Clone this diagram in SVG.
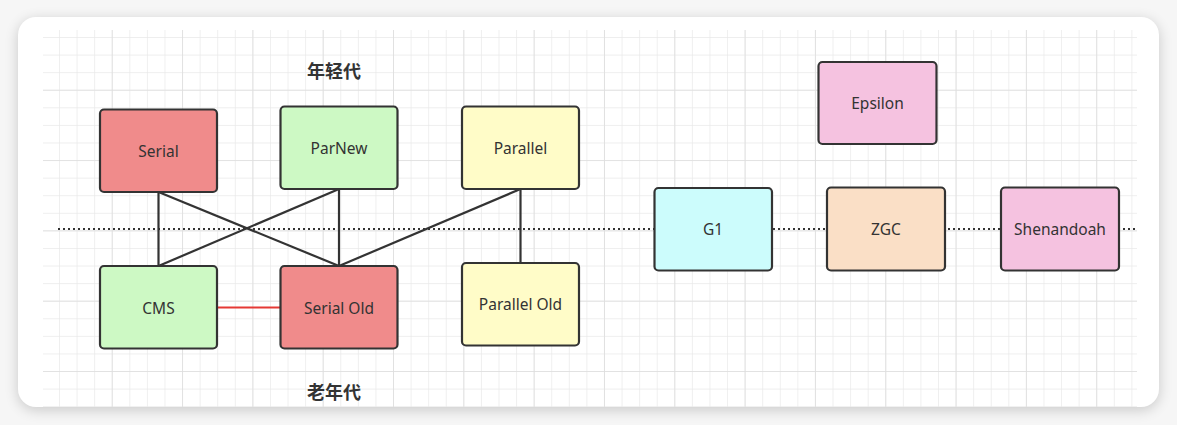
<svg xmlns="http://www.w3.org/2000/svg" width="1177" height="425" viewBox="0 0 1177 425">
<defs>
<filter id="shadow" x="-5%" y="-10%" width="110%" height="125%">
<feGaussianBlur stdDeviation="7"/>
</filter>
<pattern id="minor" x="42.4" y="20.4" width="17.58" height="17.58" patternUnits="userSpaceOnUse">
<path d="M17.58 0V17.58M0 17.58H17.58" fill="none" stroke="#e9e9e9" stroke-width="1.4"/>
</pattern>
<pattern id="major" x="42.4" y="20.4" width="70.32" height="70.32" patternUnits="userSpaceOnUse">
<path d="M70.32 0V70.32M0 70.32H70.32" fill="none" stroke="#dedede" stroke-width="1.6"/>
</pattern>
<clipPath id="cardclip"><rect x="18" y="17" width="1141" height="390" rx="18"/></clipPath>
</defs>
<style>
.node rect{stroke:#333;stroke-width:2.2}
.node text{font-family:"Noto Sans","Liberation Sans",sans-serif;font-size:15.5px;fill:#333;text-anchor:middle;dominant-baseline:central}
.lbl{font-family:"Noto Sans CJK SC",sans-serif;font-size:18px;font-weight:bold;fill:#333;text-anchor:middle;dominant-baseline:central}
.conn line{stroke:#333;stroke-width:2.2}
</style>
<rect width="1177" height="425" fill="#f6f6f6"/>
<rect x="18" y="20" width="1141" height="390" rx="18" fill="#000" opacity="0.18" filter="url(#shadow)"/>
<rect x="18" y="17" width="1141" height="390" rx="18" fill="#fff"/>
<g clip-path="url(#cardclip)">
<rect x="43" y="30" width="1094" height="380" fill="url(#minor)"/>
<rect x="43" y="30" width="1094" height="380" fill="url(#major)"/>
</g>
<line x1="58" y1="229" x2="1137" y2="229" stroke="#333" stroke-width="2.2" stroke-dasharray="2 3"/>
<text class="lbl" x="334" y="70">年轻代</text>
<text class="lbl" x="334" y="391">老年代</text>
<g id="connectors" class="conn">
<line x1="158.5" y1="192" x2="158.5" y2="266"/>
<line x1="158.5" y1="192" x2="339" y2="266"/>
<line x1="339" y1="189" x2="158.5" y2="266"/>
<line x1="339" y1="189" x2="339" y2="266"/>
<line x1="520.5" y1="189" x2="339" y2="266"/>
<line x1="520.5" y1="189" x2="520.5" y2="263"/>
<line x1="217" y1="307.5" x2="280" y2="307.5" style="stroke:#e53935"/>
</g>
<g id="serial" class="node"><rect x="100" y="109.5" width="117" height="82.5" rx="4" fill="#f08b8b"/><text x="158.5" y="151">Serial</text></g>
<g id="parnew" class="node"><rect x="280.5" y="106.5" width="117" height="82.5" rx="4" fill="#cdf9c4"/><text x="339" y="147.5">ParNew</text></g>
<g id="parallel" class="node"><rect x="462" y="106.5" width="117" height="82.5" rx="4" fill="#fffcc8"/><text x="520.5" y="147.5">Parallel</text></g>
<g id="cms" class="node"><rect x="100" y="266" width="117" height="82.5" rx="4" fill="#cdf9c4"/><text x="158.5" y="307.5">CMS</text></g>
<g id="serialold" class="node"><rect x="280.5" y="266" width="117" height="82.5" rx="4" fill="#f08b8b"/><text x="339" y="307.5">Serial Old</text></g>
<g id="parallelold" class="node"><rect x="462" y="263" width="117" height="82.5" rx="4" fill="#fffcc8"/><text x="520.5" y="304">Parallel Old</text></g>
<g id="g1" class="node"><rect x="654.5" y="188" width="117.5" height="82.5" rx="4" fill="#ccfcfc"/><text x="713" y="229">G1</text></g>
<g id="epsilon" class="node"><rect x="818.5" y="62" width="118" height="82" rx="4" fill="#f5c2e0"/><text x="877.5" y="103">Epsilon</text></g>
<g id="zgc" class="node"><rect x="827" y="187.5" width="118" height="83" rx="4" fill="#fadfc6"/><text x="886" y="229">ZGC</text></g>
<g id="shenandoah" class="node"><rect x="1001" y="187.5" width="118" height="83" rx="4" fill="#f5c2e0"/><text x="1060" y="229">Shenandoah</text></g>
</svg>
